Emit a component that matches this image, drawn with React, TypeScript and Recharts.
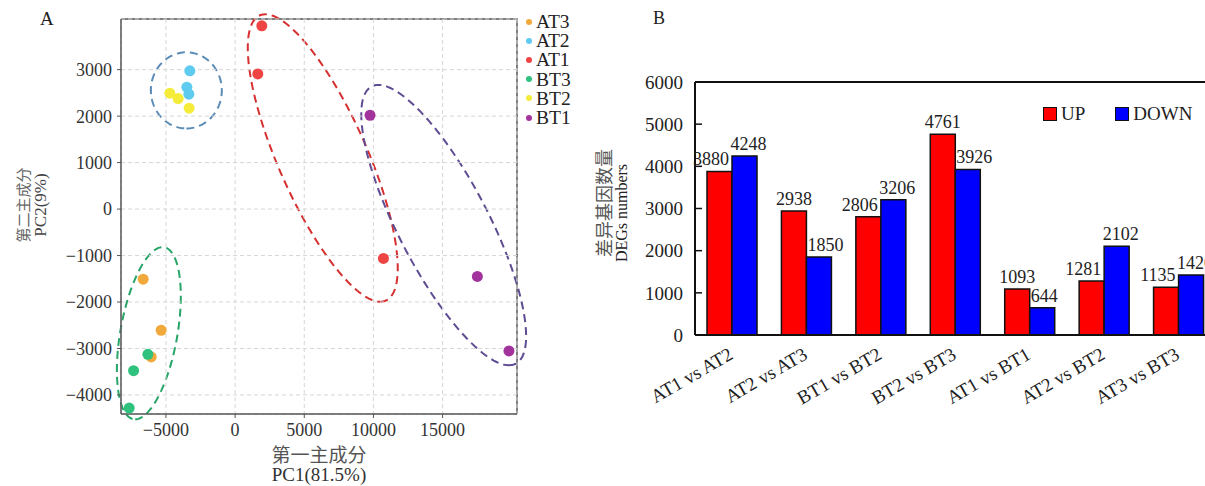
import React from 'react';
import {
  ScatterChart,
  Scatter,
  XAxis,
  YAxis,
  CartesianGrid,
  BarChart,
  Bar,
  LabelList,
  Label,
  ReferenceLine,
} from 'recharts';

const serif = "'Liberation Serif', 'Times New Roman', 'Noto Sans CJK SC', serif";

// ---------- Panel A: PCA ----------
const groupNames = ['AT3', 'AT2', 'AT1', 'BT3', 'BT2', 'BT1'];
const groupColors = ['#f2a93b', '#5fcbef', '#ee4444', '#2ec27e', '#f5ec3a', '#a2329c'];
const at3 = [
  { x: -6647, y: -1509 },
  { x: -5347, y: -2608 },
  { x: -6069, y: -3183 },
];
const at2 = [
  { x: -3273, y: 2974 },
  { x: -3490, y: 2623 },
  { x: -3345, y: 2472 },
];
const at1 = [
  { x: 1930, y: 3944 },
  { x: 1640, y: 2909 },
  { x: 10723, y: -1063 },
];
const bt3 = [
  { x: -6308, y: -3125 },
  { x: -7341, y: -3477 },
  { x: -7659, y: -4282 },
];
const bt2 = [
  { x: -4718, y: 2494 },
  { x: -4118, y: 2377 },
  { x: -3324, y: 2170 },
];
const bt1 = [
  { x: 9754, y: 2019 },
  { x: 17514, y: -1450 },
  { x: 19798, y: -3054 },
];
const groupData = [at3, at2, at1, bt3, bt2, bt1];

const PCA_X_MIN = -8250;
const PCA_X_MAX = 20380;
const PCA_Y_MIN = -4410;
const PCA_Y_MAX = 4090;
const pcaXTicks = [-5000, 0, 5000, 10000, 15000];
const pcaYTicks = [-4000, -3000, -2000, -1000, 0, 1000, 2000, 3000];

// top and right edges of the plot frame, in data units
const frameEdge = [
  { x: PCA_X_MIN, y: PCA_Y_MAX },
  { x: PCA_X_MAX, y: PCA_Y_MAX },
  { x: PCA_X_MAX, y: PCA_Y_MIN },
];

// confidence ellipses (center, conjugate semi-axis vectors, in data units)
const ellipseColors = ['#5b8cb8', '#d63030', '#5f4c92', '#27a567'];
const ellipseCx = [-3526, 6337, 15080, -6236];
const ellipseCy = [2554, 1099, -345, -2672];
const ellipseUx = [0, 4155, 4718, -990];
const ellipseUy = [-819, -3093, -3017, -1853];
const ellipseVx = [2565, 3483, 3642, 2088];
const ellipseVy = [0, 0, 0, 0];
const ELLIPSE_STEPS = 120;

function ellipsePoints(i: number) {
  const pts: { x: number; y: number }[] = [];
  for (let k = 0; k <= ELLIPSE_STEPS; k++) {
    const t = (2 * Math.PI * k) / ELLIPSE_STEPS;
    pts.push({
      x: ellipseCx[i] + ellipseUx[i] * Math.cos(t) + ellipseVx[i] * Math.sin(t),
      y: ellipseCy[i] + ellipseUy[i] * Math.cos(t) + ellipseVy[i] * Math.sin(t),
    });
  }
  return pts;
}

// ---------- Panel B: DEGs ----------
const comparisons = ['AT1 vs AT2', 'AT2 vs AT3', 'BT1 vs BT2', 'BT2 vs BT3', 'AT1 vs BT1', 'AT2 vs BT2', 'AT3 vs BT3'];
const upValues = [3880, 2938, 2806, 4761, 1093, 1281, 1135];
const downValues = [4248, 1850, 3206, 3926, 644, 2102, 1420];
const degTicks = [0, 1000, 2000, 3000, 4000, 5000, 6000];
const DEG_MAX = 6000;
const seriesNames = ['UP', 'DOWN'];
const seriesColors = ['#ff0000', '#0000ff'];

const barData = comparisons.map((name, i) => ({ name, up: upValues[i], down: downValues[i] }));

const fmtMinus = (v: number) => (v < 0 ? '\u2212' + String(Math.abs(v)) : String(v));

// geometry of panel A plot area (px)
const A_PLOT_W = 396;
const A_PLOT_H = 395;
const ELL_PAD = 15;
const xPad = (ELL_PAD * (PCA_X_MAX - PCA_X_MIN)) / A_PLOT_W;
const yPad = (ELL_PAD * (PCA_Y_MAX - PCA_Y_MIN)) / A_PLOT_H;

const LeftXTitle = (props: any) => {
  const vb = props.viewBox || { x: 121, y: 414, width: 396, height: 30 };
  const cx = vb.x + vb.width / 2;
  return (
    <g>
      <text x={cx} y={vb.y + 48} textAnchor="middle" fontSize={19} fill="#555" fontFamily={serif}>
        第一主成分
      </text>
      <text x={cx} y={vb.y + 67} textAnchor="middle" fontSize={19} fill="#333" fontFamily={serif}>
        PC1(81.5%)
      </text>
    </g>
  );
};

const LeftYTitle = (props: any) => {
  const vb = props.viewBox || { x: 61, y: 19, width: 60, height: 395 };
  const cy = 205;
  const x1 = vb.x - 37;
  const x2 = vb.x - 21;
  return (
    <g>
      <text
        transform={`translate(${x1}, ${cy}) rotate(-90)`}
        textAnchor="middle"
        dominantBaseline="central"
        fontSize={15}
        fill="#666"
        fontFamily={serif}
      >
        第二主成分
      </text>
      <text
        transform={`translate(${x2}, ${cy}) rotate(-90)`}
        textAnchor="middle"
        dominantBaseline="central"
        fontSize={17}
        fill="#444"
        fontFamily={serif}
      >
        PC2(9%)
      </text>
    </g>
  );
};

const RightYTitle = (props: any) => {
  const vb = props.viewBox || { x: 75, y: 82, width: 60, height: 253 };
  const x1 = vb.x - 30;
  const x2 = vb.x - 14;
  return (
    <g>
      <text
        transform={`translate(${x1}, 203) rotate(-90)`}
        textAnchor="middle"
        dominantBaseline="central"
        fontSize={18}
        fill="#555"
        fontFamily={serif}
      >
        差异基因数量
      </text>
      <text
        transform={`translate(${x2}, 213) rotate(-90)`}
        textAnchor="middle"
        dominantBaseline="central"
        fontSize={16}
        fill="#222"
        fontFamily={serif}
      >
        DEGs numbers
      </text>
    </g>
  );
};

const BarXTick = (props: any) => {
  const { x, y, payload } = props;
  const tx = x + 2;
  const ty = y + 15;
  return (
    <text
      x={tx}
      y={ty}
      transform={`rotate(-30, ${tx}, ${ty})`}
      textAnchor="end"
      fontSize={19}
      fill="#222"
      fontFamily={serif}
    >
      {payload.value}
    </text>
  );
};

// value labels: the shorter bar of a pair moves its label away from the taller neighbour
const UpLabel = (props: any) => {
  const { x, y, width, value, index } = props;
  const lower = downValues[index] > value;
  return (
    <text
      x={lower ? x + width - 3 : x + width / 2}
      y={y - 6}
      textAnchor={lower ? 'end' : 'middle'}
      fontSize={18}
      fill="#222"
      fontFamily={serif}
    >
      {value}
    </text>
  );
};
const DownLabel = (props: any) => {
  const { x, y, width, value, index } = props;
  const lower = upValues[index] > value;
  return (
    <text
      x={lower ? x + 1 : x + width / 2 + 4}
      y={y - 6}
      textAnchor={lower ? 'start' : 'middle'}
      fontSize={18}
      fill="#222"
      fontFamily={serif}
    >
      {value}
    </text>
  );
};

const dotShape = (color: string) => (props: any) => (
  <circle cx={props.cx} cy={props.cy} r={5.5} fill={color} />
);
const noShape = () => <g />;

export default function App() {
  const axisGray = '#555';
  return (
    <div
      style={{
        position: 'absolute',
        left: 0,
        top: 0,
        width: 1205,
        height: 486,
        overflow: 'hidden',
        background: '#fff',
        fontFamily: serif,
      }}
    >
      <div style={{ position: 'absolute', left: 40, top: 9, fontSize: 19, lineHeight: '19px', color: '#222' }}>A</div>
      <div style={{ position: 'absolute', left: 653, top: 9, fontSize: 18, lineHeight: '18px', color: '#222' }}>B</div>

      {/* Panel A: frame + ellipse layer (same scale, wider clip area) */}
      <div style={{ position: 'absolute', left: 0, top: 0 }}>
        <ScatterChart width={560} height={486} margin={{ top: 4, right: 28, bottom: 57, left: 106 }}>
          <XAxis
            type="number"
            dataKey="x"
            hide
            domain={[PCA_X_MIN - xPad, PCA_X_MAX + xPad]}
            allowDataOverflow
          />
          <YAxis
            type="number"
            dataKey="y"
            hide
            domain={[PCA_Y_MIN - yPad, PCA_Y_MAX + yPad]}
            allowDataOverflow
          />
          <Scatter
            name="frame"
            data={frameEdge}
            fill={axisGray}
            line={{ stroke: axisGray, strokeWidth: 1.5, fill: 'none' }}
            lineType="joint"
            shape={noShape}
            legendType="none"
            isAnimationActive={false}
          />
          {ellipseColors.map((c, i) => (
            <Scatter
              key={'e' + i}
              name={'ellipse' + i}
              data={ellipsePoints(i)}
              fill={c}
              line={{ stroke: c, strokeWidth: 2, strokeDasharray: '8 5', fill: 'none' }}
              lineType="joint"
              shape={noShape}
              legendType="none"
              isAnimationActive={false}
            />
          ))}
        </ScatterChart>
      </div>

      {/* Panel A: axes, grid and samples */}
      <div style={{ position: 'absolute', left: 0, top: 0 }}>
        <ScatterChart width={530} height={486} margin={{ top: 19, right: 13, bottom: 42, left: 61 }}>
          <CartesianGrid stroke="#d6d6d6" strokeDasharray="4 3" />
          <XAxis
            type="number"
            dataKey="x"
            domain={[PCA_X_MIN, PCA_X_MAX]}
            allowDataOverflow
            ticks={pcaXTicks}
            tickFormatter={fmtMinus}
            height={30}
            tickSize={4}
            tickMargin={5}
            axisLine={{ stroke: axisGray, strokeWidth: 1.5 }}
            tickLine={{ stroke: axisGray }}
            tick={{ fontSize: 18, fill: '#333', fontFamily: serif }}
          >
            <Label content={LeftXTitle} />
          </XAxis>
          <YAxis
            type="number"
            dataKey="y"
            domain={[PCA_Y_MIN, PCA_Y_MAX]}
            allowDataOverflow
            ticks={pcaYTicks}
            tickFormatter={fmtMinus}
            width={60}
            tickSize={4}
            tickMargin={5}
            axisLine={{ stroke: axisGray, strokeWidth: 1.5 }}
            tickLine={{ stroke: axisGray }}
            tick={{ fontSize: 18, fill: '#333', fontFamily: serif }}
          >
            <Label content={LeftYTitle} />
          </YAxis>
          {groupNames.map((g, i) => (
            <Scatter
              key={g}
              name={g}
              data={groupData[i]}
              fill={groupColors[i]}
              shape={dotShape(groupColors[i])}
              isAnimationActive={false}
            />
          ))}
        </ScatterChart>
      </div>

      {/* Panel A legend */}
      <div style={{ position: 'absolute', left: 526, top: 12 }}>
        {groupNames.map((g, i) => (
          <div key={g} style={{ display: 'flex', alignItems: 'center', height: 19.2 }}>
            <span
              style={{
                display: 'inline-block',
                width: 6,
                height: 6,
                borderRadius: 3,
                background: groupColors[i],
                marginRight: 4,
              }}
            />
            <span style={{ fontSize: 19.5, lineHeight: '19px', color: '#222' }}>{g}</span>
          </div>
        ))}
      </div>

      {/* Panel B */}
      <div style={{ position: 'absolute', left: 560, top: 0 }}>
        <BarChart
          width={680}
          height={486}
          data={barData}
          margin={{ top: 82, right: 24, bottom: 71, left: 75 }}
          barGap={0}
          barCategoryGap={12}
        >
          <XAxis
            dataKey="name"
            height={80}
            interval={0}
            tick={BarXTick}
            tickLine={false}
            axisLine={{ stroke: '#111', strokeWidth: 2 }}
          />
          <YAxis
            type="number"
            domain={[0, DEG_MAX]}
            ticks={degTicks}
            width={60}
            tickSize={-7}
            tickMargin={19}
            axisLine={{ stroke: '#111', strokeWidth: 2 }}
            tickLine={{ stroke: '#111', strokeWidth: 1.5 }}
            tick={{ fontSize: 19, fill: '#222', fontFamily: serif }}
          >
            <Label content={RightYTitle} />
          </YAxis>
          <ReferenceLine y={DEG_MAX} stroke="#111" strokeWidth={2} ifOverflow="visible" />
          <Bar dataKey="up" name={seriesNames[0]} fill={seriesColors[0]} stroke="#111" strokeWidth={1.5} isAnimationActive={false}>
            <LabelList dataKey="up" content={UpLabel} />
          </Bar>
          <Bar dataKey="down" name={seriesNames[1]} fill={seriesColors[1]} stroke="#111" strokeWidth={1.5} isAnimationActive={false}>
            <LabelList dataKey="down" content={DownLabel} />
          </Bar>
        </BarChart>
      </div>

      {/* Panel B legend */}
      <div style={{ position: 'absolute', left: 1043, top: 104, display: 'flex', alignItems: 'center' }}>
        {seriesNames.map((s, i) => (
          <div key={s} style={{ display: 'flex', alignItems: 'center', marginRight: i === 0 ? 30 : 0 }}>
            <span
              style={{
                display: 'inline-block',
                width: 12,
                height: 12,
                background: seriesColors[i],
                border: '1.5px solid #111',
                marginRight: 4,
              }}
            />
            <span style={{ fontSize: 19, lineHeight: '19px', color: '#222' }}>{s}</span>
          </div>
        ))}
      </div>
    </div>
  );
}
